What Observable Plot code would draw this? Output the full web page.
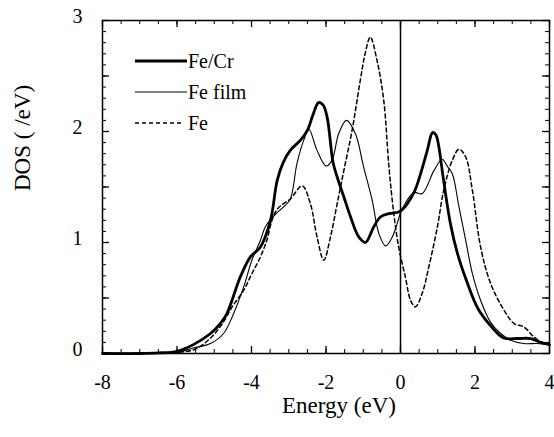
<!DOCTYPE html>
<html>
<head>
<meta charset="utf-8">
<script src="https://cdn.jsdelivr.net/npm/d3@7"></script>
<script src="https://cdn.jsdelivr.net/npm/@observablehq/plot@0.6"></script>
<style>
  body { margin: 0; background: #fff; }
  #chart { width: 554px; height: 437px; }
</style>
</head>
<body>
<div id="chart"></div>
<script>
// ---- data ----
const feCrE   = [-8,-7,-6.5,-6,-5.56,-5.1,-4.84,-4.66,-4.3,-4.03,-3.76,-3.49,-3.31,-3.15,-2.96,-2.69,-2.5,-2.35,-2.2,-2.08,-1.97,-1.81,-1.7,-1.52,-1.34,-1.12,-0.94,-0.72,-0.54,-0.31,-0.09,0.03,0.36,0.54,0.72,0.86,0.95,1.02,1.14,1.34,1.53,1.8,2.07,2.42,2.77,3.15,3.5,3.76,4.0];
const feCrDOS = [0,0,0.005,0.02,0.08,0.18,0.27,0.36,0.69,0.87,0.96,1.2,1.56,1.72,1.83,1.92,2.01,2.15,2.26,2.24,2.13,1.72,1.59,1.41,1.23,1.05,1.0,1.14,1.23,1.26,1.27,1.29,1.45,1.62,1.83,1.99,1.97,1.88,1.6,1.17,0.9,0.63,0.41,0.25,0.14,0.135,0.135,0.1,0.08];

const filmE   = [-8,-7,-6.5,-6,-5.56,-5.1,-4.75,-4.48,-4.21,-3.99,-3.76,-3.63,-3.4,-3.14,-2.96,-2.78,-2.6,-2.46,-2.24,-2.0,-1.84,-1.66,-1.45,-1.21,-0.99,-0.76,-0.58,-0.4,-0.22,-0.09,0.03,0.36,0.58,0.9,1.12,1.25,1.39,1.57,1.75,1.93,2.15,2.42,2.69,2.96,3.31,3.67,3.99];
const filmDOS = [0,0,0.005,0.01,0.05,0.09,0.18,0.36,0.6,0.84,1.02,1.14,1.24,1.32,1.39,1.71,1.92,2.02,1.83,1.69,1.74,1.98,2.1,1.98,1.68,1.38,1.08,0.97,1.05,1.17,1.29,1.45,1.44,1.65,1.75,1.69,1.62,1.32,1.02,0.72,0.48,0.28,0.18,0.12,0.09,0.09,0.08];

const feE     = [-8,-7,-6.5,-6,-5.5,-5.1,-4.8,-4.52,-4.21,-3.99,-3.76,-3.58,-3.45,-3.31,-3.14,-2.96,-2.64,-2.42,-2.24,-2.06,-1.88,-1.7,-1.52,-1.3,-1.08,-0.95,-0.81,-0.63,-0.45,-0.31,-0.18,-0.05,0.13,0.27,0.4,0.58,0.76,0.99,1.16,1.39,1.57,1.75,1.93,2.15,2.42,2.78,3.05,3.31,3.58,3.85,4.0];
const feDOS   = [0,0,0.005,0.01,0.04,0.14,0.26,0.42,0.57,0.72,0.87,1.03,1.2,1.3,1.35,1.39,1.51,1.35,1.05,0.84,1.05,1.35,1.65,2.01,2.46,2.7,2.85,2.64,2.28,1.68,1.26,0.96,0.69,0.48,0.42,0.54,0.78,1.14,1.47,1.74,1.84,1.77,1.47,0.96,0.63,0.39,0.27,0.24,0.15,0.09,0.08];

const xTickLabels = [-8,-6,-4,-2,0,2,4];
const yTickLabels = [0,1,2,3];
const xMinorTicks = d3.range(-8, 4.0001, 0.5);
const xMajorTicks = [-8,-6,-4,-2,0,2,4];
const yMinorTicks = d3.range(0, 3.0001, 0.1);
const yMajorTicks = [0,0.5,1,1.5,2,2.5,3];
const seriesNames = ["Fe/Cr", "Fe film", "Fe"];
const xTitle = "Energy (eV)";
const yTitle = "DOS ( /eV)";

const table = (E, D) => E.map((e, i) => ({E: e, dos: D[i]}));
const feCr = table(feCrE, feCrDOS);
const film = table(filmE, filmDOS);
const fe   = table(feE, feDOS);

// ---- layout ----
const W = 554, H = 437;
const mt = 20, mb = 84, ml = 102, mr = 5;
const iw = W - ml - mr, ih = H - mt - mb;
const font = "Liberation Serif";
const minorLen = 4, majorLen = 7;

const plot = Plot.plot({
  width: W, height: H,
  marginTop: mt, marginBottom: mb, marginLeft: ml, marginRight: mr,
  style: {fontFamily: font, fontSize: "20px", background: "#fff", color: "#000"},
  x: {domain: [-8, 4]},
  y: {domain: [0, 3]},
  marks: [
    // ticks inside the frame, on all four sides
    Plot.tickX(xMinorTicks, {x: d => d, insetTop: ih - minorLen, stroke: "#000", strokeWidth: 1}),
    Plot.tickX(xMajorTicks, {x: d => d, insetTop: ih - majorLen, stroke: "#000", strokeWidth: 1.3}),
    Plot.tickX(xMinorTicks, {x: d => d, insetBottom: ih - minorLen, stroke: "#000", strokeWidth: 1}),
    Plot.tickX(xMajorTicks, {x: d => d, insetBottom: ih - majorLen, stroke: "#000", strokeWidth: 1.3}),
    Plot.tickY(yMinorTicks, {y: d => d, insetRight: iw - minorLen, stroke: "#000", strokeWidth: 1}),
    Plot.tickY(yMajorTicks, {y: d => d, insetRight: iw - majorLen, stroke: "#000", strokeWidth: 1.3}),
    Plot.tickY(yMinorTicks, {y: d => d, insetLeft: iw - minorLen, stroke: "#000", strokeWidth: 1}),
    Plot.tickY(yMajorTicks, {y: d => d, insetLeft: iw - majorLen, stroke: "#000", strokeWidth: 1.3}),
    Plot.axisX({ticks: xTickLabels, tickSize: 0, tickPadding: 21, label: null, tickFormat: d => String(d), fontSize: 20, fontFamily: font}),
    Plot.axisY({ticks: yTickLabels, tickSize: 0, tickPadding: 20, label: null, tickFormat: d => String(d), fontSize: 20, fontFamily: font, dy: -4}),
    Plot.text([xTitle], {frameAnchor: "bottom", dy: 59, dx: 13, fontSize: 23, fontFamily: font, text: d => d}),
    Plot.text([yTitle], {frameAnchor: "left", dx: -80, dy: 4, rotate: -90, fontSize: 23, fontFamily: font, text: d => d}),
    Plot.ruleX([0], {stroke: "#000", strokeWidth: 1.5}),
    Plot.line(fe,   {x: "E", y: "dos", curve: "catmull-rom", stroke: "#000", strokeWidth: 1.5, strokeDasharray: "4,3"}),
    Plot.line(film, {x: "E", y: "dos", curve: "catmull-rom", stroke: "#000", strokeWidth: 1.1}),
    Plot.line(feCr, {x: "E", y: "dos", curve: "catmull-rom", stroke: "#000", strokeWidth: 2.8}),
    Plot.frame({stroke: "#000", strokeWidth: 1.5})
  ]
});
document.getElementById("chart").appendChild(plot);

// ---- legend (inside the frame, top left) ----
const svg = d3.select(plot);
const lg = svg.append("g");
const legendStyles = [
  {w: 2.8, dash: null, x2: 187},
  {w: 1.1, dash: null, x2: 187},
  {w: 1.5, dash: "4,3", x2: 182}
];
seriesNames.forEach((name, i) => {
  const y = 61 + i * 31;
  const s = legendStyles[i];
  const ln = lg.append("line").attr("x1", 135).attr("x2", s.x2).attr("y1", y).attr("y2", y)
    .attr("stroke", "#000").attr("stroke-width", s.w);
  if (s.dash) ln.attr("stroke-dasharray", s.dash);
  lg.append("text").attr("x", 188).attr("y", y + 7)
    .attr("text-anchor", "start").attr("font-family", font).attr("font-size", 20)
    .attr("fill", "#000").text(name);
});
</script>
</body>
</html>
